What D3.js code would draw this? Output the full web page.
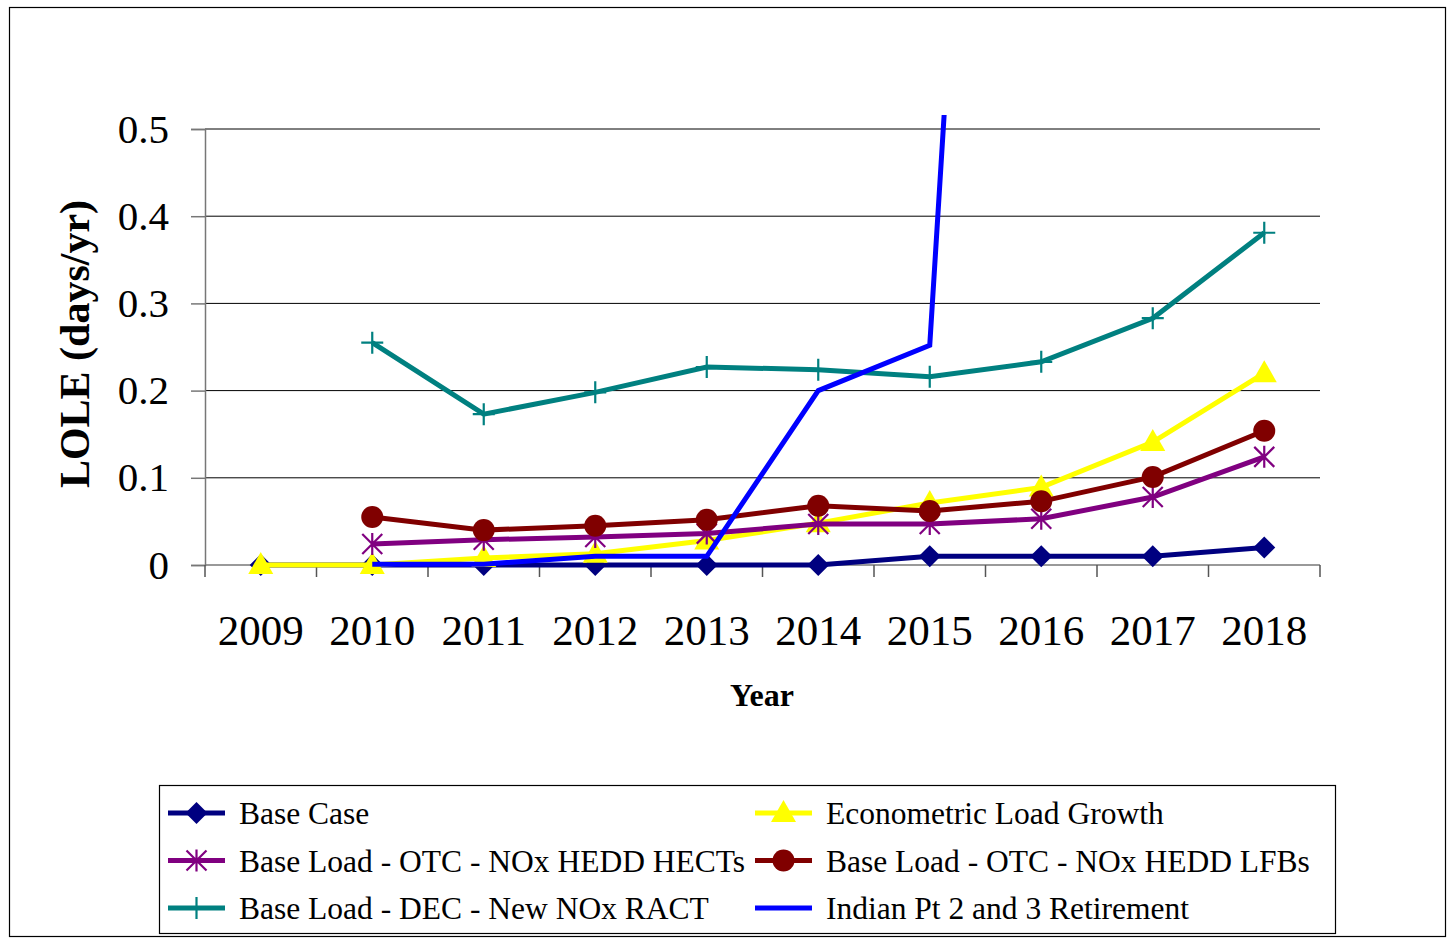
<!DOCTYPE html>
<html>
<head>
<meta charset="utf-8">
<script src="https://cdn.jsdelivr.net/npm/d3@7"></script>
<style>
  body { margin: 0; background: #fff; }
  svg { display: block; font-family: "Liberation Serif", "Times New Roman", serif; }
</style>
</head>
<body>
<div id="chart"></div>
<script>
// Categories and series values (LOLE, days/yr)
const years = ["2009", "2010", "2011", "2012", "2013", "2014", "2015", "2016", "2017", "2018"];
const baseCase = [0, 0, 0, 0, 0, 0, 0.01, 0.01, 0.01, 0.02];
const econGrowth = [0, 0, 0.008, 0.013, 0.028, 0.048, 0.071, 0.089, 0.141, 0.22];
const noxHects = [null, 0.024, 0.029, 0.032, 0.036, 0.047, 0.047, 0.053, 0.078, 0.124];
const noxLfbs = [null, 0.055, 0.04, 0.045, 0.052, 0.068, 0.062, 0.073, 0.101, 0.154];
const decRact = [null, 0.255, 0.173, 0.198, 0.227, 0.224, 0.216, 0.233, 0.283, 0.381];
const indianPt = [null, 0.001, 0.001, 0.01, 0.01, 0.2, 0.252, 2.3, null, null];
const yTicks = [0, 0.1, 0.2, 0.3, 0.4, 0.5];

const series = [
    { name: "Base Case", values: baseCase, color: "#000080", marker: "diamond" },
    { name: "Econometric Load Growth", values: econGrowth, color: "#FFFF00", marker: "triangle" },
    { name: "Base Load - OTC - NOx HEDD HECTs", values: noxHects, color: "#800080", marker: "star" },
    { name: "Base Load - OTC - NOx HEDD LFBs", values: noxLfbs, color: "#800000", marker: "circle" },
    { name: "Base Load - DEC - New NOx RACT", values: decRact, color: "#008080", marker: "plus" },
    { name: "Indian Pt 2 and 3 Retirement", values: indianPt, color: "#0000FF", marker: "none" }
];

const W = 1450, H = 941;
const plot = { left: 205, right: 1320, top: 129, bottom: 565 };

const svg = d3.select("#chart").append("svg")
    .attr("width", W)
    .attr("height", H);

// outer chart border
svg.append("rect")
    .attr("x", 9.5).attr("y", 7.5)
    .attr("width", 1436).attr("height", 929)
    .attr("fill", "#fff")
    .attr("stroke", "#000")
    .attr("stroke-width", 1.2);

const x = d3.scaleBand()
    .domain(years)
    .range([plot.left, plot.right]);

const y = d3.scaleLinear()
    .domain([0, 0.5])
    .range([plot.bottom, plot.top]);

const cx = d => x(d) + x.bandwidth() / 2;

// gridlines
svg.append("g")
    .selectAll("line")
    .data(yTicks.filter(t => t > 0))
    .enter().append("line")
    .attr("x1", plot.left).attr("x2", plot.right)
    .attr("y1", d => y(d)).attr("y2", d => y(d))
    .attr("stroke", "#000")
    .attr("stroke-width", 1);

// Y axis
const yAxis = svg.append("g")
    .attr("transform", `translate(${plot.left},0)`)
    .call(d3.axisLeft(y).tickValues(yTicks).tickSize(14).tickPadding(22)
        .tickFormat(d => d === 0 ? "0" : d3.format(".1f")(d)));
yAxis.select(".domain").attr("stroke", "#777").attr("stroke-width", 1.5);
yAxis.selectAll(".tick line").attr("stroke", "#777").attr("stroke-width", 1.5);
yAxis.selectAll(".tick text")
    .attr("fill", "#000")
    .style("font-size", "41px")
    .style("font-family", "'Liberation Serif', serif");

// X axis: line, ticks at category boundaries, labels at centers
const xAxis = svg.append("g")
    .attr("transform", `translate(0,${plot.bottom})`);
xAxis.append("line")
    .attr("x1", plot.left).attr("x2", plot.right)
    .attr("stroke", "#777").attr("stroke-width", 1.5);
xAxis.selectAll(".xtick")
    .data(years.concat(["end"]))
    .enter().append("line")
    .attr("class", "xtick")
    .attr("x1", (d, i) => plot.left + i * x.step())
    .attr("x2", (d, i) => plot.left + i * x.step())
    .attr("y1", 0).attr("y2", 12)
    .attr("stroke", "#555").attr("stroke-width", 1.5);
xAxis.selectAll(".xlabel")
    .data(years)
    .enter().append("text")
    .attr("class", "xlabel")
    .attr("x", d => cx(d))
    .attr("y", 80)
    .attr("text-anchor", "middle")
    .style("font-size", "43px")
    .text(d => d);

// axis titles
svg.append("text")
    .attr("x", 762)
    .attr("y", 706)
    .attr("text-anchor", "middle")
    .style("font-size", "32px")
    .style("font-weight", "bold")
    .text("Year");

svg.append("text")
    .attr("transform", "translate(89,344) rotate(-90)")
    .attr("text-anchor", "middle")
    .style("font-size", "42px")
    .style("font-weight", "bold")
    .text("LOLE (days/yr)");

// clip for lines running past the top of the plot
svg.append("clipPath")
    .attr("id", "plotClip")
    .append("rect")
    .attr("x", 0).attr("y", 115)
    .attr("width", W).attr("height", H);

function markerPath(type) {
    switch (type) {
        case "diamond": return "M0,-11L11,0L0,11L-11,0Z";
        case "triangle": return "M0,-13L12.5,9L-12.5,9Z";
        case "star": return "M-10,-10L10,10M-10,10L10,-10M0,-11L0,11";
        case "plus": return "M-11,0H11M0,-11V11";
        default: return null;
    }
}

function drawMarker(g, type, color) {
    if (type === "circle") {
        g.append("circle").attr("r", 11).attr("fill", color);
    } else if (type === "star" || type === "plus") {
        g.append("path").attr("d", markerPath(type))
            .attr("fill", "none").attr("stroke", color).attr("stroke-width", 2.2);
    } else if (type !== "none") {
        g.append("path").attr("d", markerPath(type)).attr("fill", color);
    }
}

const line = d3.line()
    .defined(d => d.v !== null)
    .x(d => cx(d.year))
    .y(d => y(d.v));

// series: line then markers, in legend order
series.forEach(s => {
    const pts = years.map((yr, i) => ({ year: yr, v: s.values[i] }));
    const g = svg.append("g").attr("clip-path", "url(#plotClip)");
    g.append("path")
        .datum(pts)
        .attr("d", line)
        .attr("fill", "none")
        .attr("stroke", s.color)
        .attr("stroke-width", 5)
        .attr("stroke-linejoin", "miter");
    if (s.marker !== "none") {
        g.selectAll(".mk")
            .data(pts.filter(d => d.v !== null))
            .enter().append("g")
            .attr("transform", d => `translate(${cx(d.year)},${y(d.v)})`)
            .each(function () { drawMarker(d3.select(this), s.marker, s.color); });
    }
});

// legend
const legendBox = svg.append("g");
legendBox.append("rect")
    .attr("x", 159.5).attr("y", 785.5)
    .attr("width", 1176).attr("height", 148)
    .attr("fill", "#fff")
    .attr("stroke", "#000")
    .attr("stroke-width", 1.2);

const legend = legendBox.selectAll(".legend")
    .data(series)
    .enter().append("g")
    .attr("class", "legend")
    .attr("transform", (d, i) => `translate(${i % 2 === 0 ? 168 : 755},${813 + Math.floor(i / 2) * 47.5})`);

legend.append("line")
    .attr("x1", 0).attr("x2", 57)
    .attr("stroke", d => d.color)
    .attr("stroke-width", 5);

legend.append("g")
    .attr("transform", "translate(28.5,0)")
    .each(function (d) { drawMarker(d3.select(this), d.marker, d.color); });

legend.append("text")
    .attr("x", 71)
    .attr("y", 11)
    .style("font-size", "31.5px")
    .text(d => d.name);
</script>
</body>
</html>
